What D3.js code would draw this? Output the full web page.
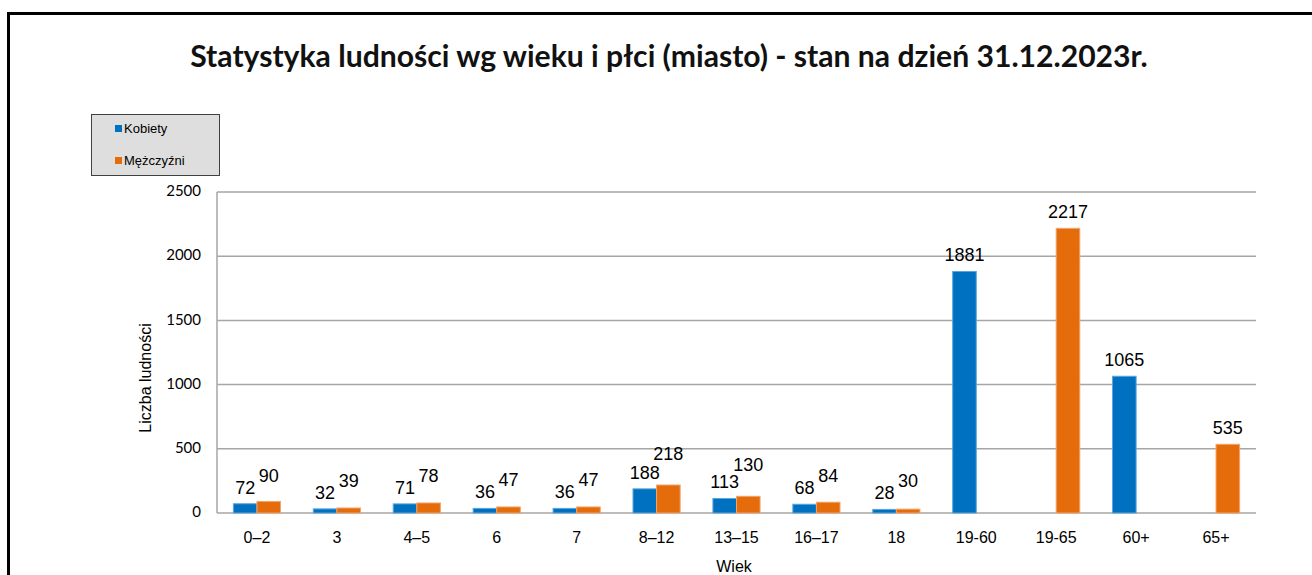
<!DOCTYPE html>
<html>
<head>
<meta charset="utf-8">
<script src="https://cdn.jsdelivr.net/npm/d3@7"></script>
<style>
	body { margin: 0; background: #fff; }
	svg { display: block; }
</style>
</head>
<body>
<div id="chart"></div>
<script>
const categories = ['0–2', '3', '4–5', '6', '7', '8–12', '13–15', '16–17', '18', '19-60', '19-65', '60+', '65+'];
const kobiety = [72, 32, 71, 36, 36, 188, 113, 68, 28, 1881, null, 1065, null];
const mezczyzni = [90, 39, 78, 47, 47, 218, 130, 84, 30, null, 2217, null, 535];
const seriesNames = ['Kobiety', 'Mężczyźni'];
const yTicks = [0, 500, 1000, 1500, 2000, 2500];

const width = 1312;
const height = 575;
const plot = {left: 217, right: 1256, top: 192, bottom: 513};
const colors = ['#0070c0', '#e46c0a'];
const edges = ['#5aa6dc', '#f2a46a'];

const svg = d3.select('#chart').append('svg')
	.attr('width', width)
	.attr('height', height);

// frame: only top and left edges are visible in the picture
svg.append('path')
	.attr('d', `M8.5,${height} L8.5,13.5 L${width},13.5`)
	.attr('fill', 'none')
	.attr('stroke', '#000')
	.attr('stroke-width', 3);

const title = svg.append('text')
	.attr('x', 669)
	.attr('y', 67)
	.attr('text-anchor', 'middle')
	.attr('font-family', 'Lato, "Open Sans", sans-serif')
	.attr('font-weight', 'bold')
	.attr('font-size', 26)
	.attr('fill', '#111')
	.text('Statystyka ludności wg wieku i płci (miasto) - stan na dzień 31.12.2023r.');
const tw = title.node().getComputedTextLength();
title.attr('font-size', 26 * 958 / tw);

const x0 = d3.scaleBand()
	.domain(categories)
	.range([plot.left, plot.right])
	.paddingInner(0.41)
	.paddingOuter(0.205);

const x1 = d3.scaleBand()
	.domain(d3.range(seriesNames.length))
	.range([0, x0.bandwidth()]);

const y = d3.scaleLinear()
	.domain([0, 2500])
	.range([plot.bottom, plot.top]);

// gridlines
svg.append('g')
	.selectAll('line')
	.data(yTicks)
	.join('line')
	.attr('x1', plot.left)
	.attr('x2', plot.right)
	.attr('y1', d => y(d))
	.attr('y2', d => y(d))
	.attr('stroke', '#a6a6a6')
	.attr('stroke-width', 1.5);

svg.append('line')
	.attr('x1', plot.left)
	.attr('x2', plot.left)
	.attr('y1', y(2500))
	.attr('y2', y(0))
	.attr('stroke', '#a6a6a6')
	.attr('stroke-width', 1.5);

// y axis labels
const yAxis = svg.append('g')
	.attr('transform', `translate(${plot.left - 16},0)`)
	.call(d3.axisLeft(y).tickValues(yTicks).tickFormat(d3.format('d')).tickSize(0).tickPadding(0));
yAxis.select('.domain').remove();
yAxis.selectAll('text')
	.attr('font-family', 'Lato, sans-serif')
	.attr('font-size', 15)
	.attr('fill', '#000')
	.attr('dy', '0.25em');

// x axis labels
const xAxis = svg.append('g')
	.attr('transform', `translate(0,${plot.bottom})`)
	.call(d3.axisBottom(x0).tickSize(0).tickPadding(19));
xAxis.select('.domain').remove();
xAxis.selectAll('text')
	.attr('font-family', '"Liberation Sans", Arial, sans-serif')
	.attr('font-size', 16)
	.attr('fill', '#000');

const rows = categories.map((c, i) => ({cat: c, values: [kobiety[i], mezczyzni[i]]}));

const groups = svg.append('g')
	.selectAll('g')
	.data(rows)
	.join('g')
	.attr('transform', d => `translate(${x0(d.cat)},0)`);

groups.selectAll('rect')
	.data(d => d.values.map((v, s) => ({v, s})).filter(e => e.v != null))
	.join('rect')
	.attr('x', d => x1(d.s))
	.attr('width', x1.bandwidth())
	.attr('y', d => y(d.v))
	.attr('height', d => y(0) - y(d.v))
	.attr('fill', d => colors[d.s])
	.attr('stroke', d => edges[d.s])
	.attr('stroke-width', 1);

// value labels; the second one is pushed up when it would collide with the first,
// further when the labels are wider than the bars
groups.each(function (d) {
	const g = d3.select(this);
	let prev = null;
	d.values.forEach((v, s) => {
		if (v == null) return;
		const t = g.append('text')
			.attr('x', x1(s) + x1.bandwidth() / 2)
			.attr('text-anchor', 'middle')
			.attr('font-family', '"Liberation Sans", Arial, sans-serif')
			.attr('font-size', 18)
			.attr('fill', '#000')
			.text(v);
		const w = t.node().getComputedTextLength();
		let base = y(v) - 10;
		if (prev != null) {
			const overlap = Math.max(0, (prev.w + w) / 2 - x1.bandwidth());
			base = Math.min(base, prev.base - 12 - overlap);
		}
		t.attr('y', base);
		prev = {base, w};
	});
});

// axis titles
svg.append('text')
	.attr('transform', `translate(151,378) rotate(-90)`)
	.attr('text-anchor', 'middle')
	.attr('font-family', '"Liberation Sans", Arial, sans-serif')
	.attr('font-size', 16)
	.attr('fill', '#000')
	.text('Liczba ludności');

svg.append('text')
	.attr('x', 734)
	.attr('y', 572)
	.attr('text-anchor', 'middle')
	.attr('font-family', '"Liberation Sans", Arial, sans-serif')
	.attr('font-size', 16)
	.attr('fill', '#000')
	.text('Wiek');

// legend
const legend = svg.append('g').attr('transform', 'translate(91,114)');
legend.append('rect')
	.attr('x', 0.5)
	.attr('y', 0.5)
	.attr('width', 128)
	.attr('height', 61)
	.attr('fill', '#dedede')
	.attr('stroke', '#404040')
	.attr('stroke-width', 1);

const items = legend.selectAll('g')
	.data(seriesNames)
	.join('g')
	.attr('transform', (d, i) => `translate(24,${14 + i * 32})`);

items.append('rect')
	.attr('x', 0)
	.attr('y', -3)
	.attr('width', 7)
	.attr('height', 7)
	.attr('fill', (d, i) => colors[i]);

items.append('text')
	.attr('x', 9)
	.attr('y', 5)
	.attr('font-family', '"Liberation Sans", Arial, sans-serif')
	.attr('font-size', 13)
	.attr('fill', '#000')
	.text(d => d);
</script>
</body>
</html>
